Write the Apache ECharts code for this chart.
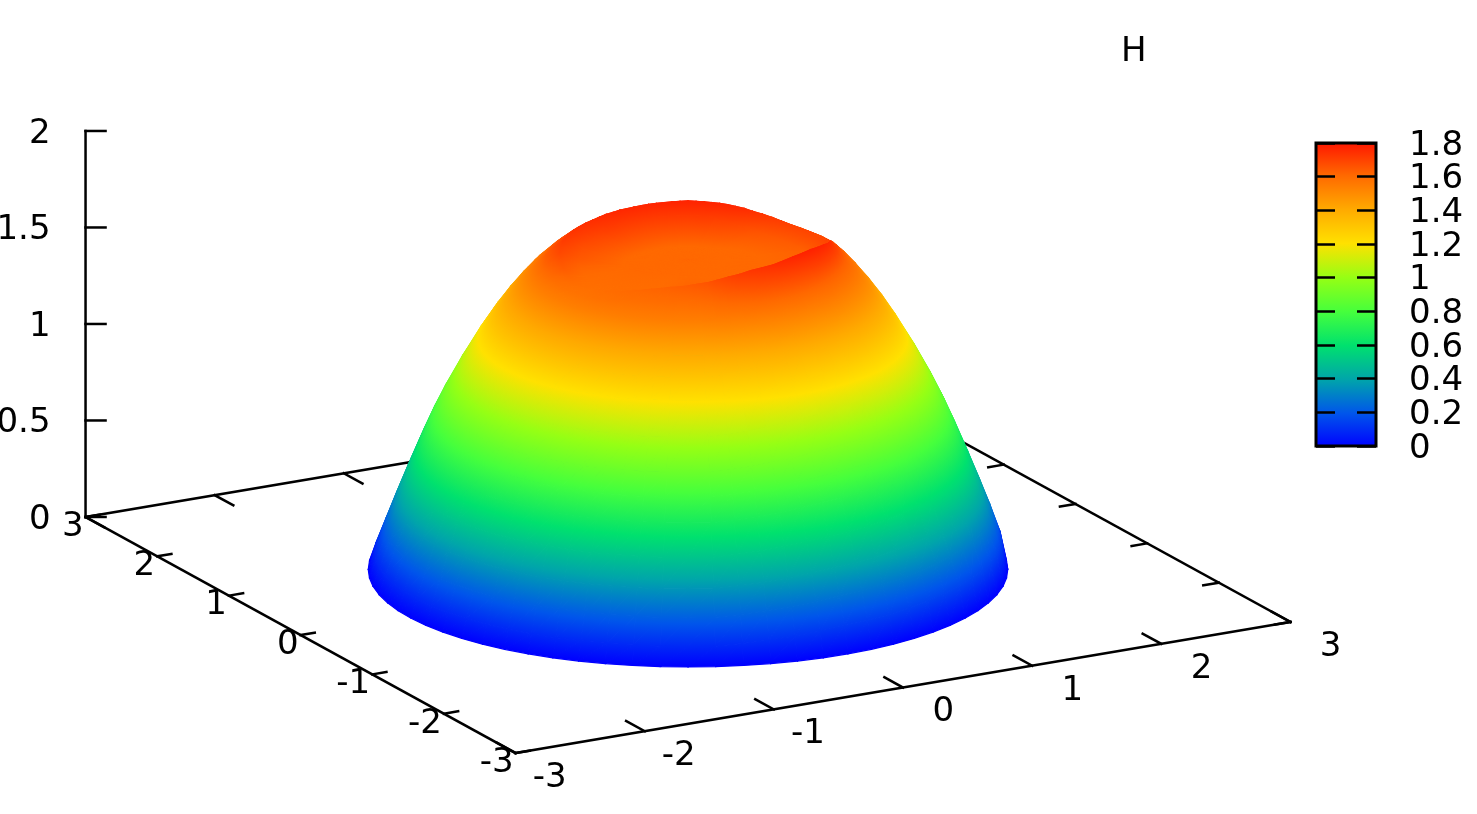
<!DOCTYPE html>
<html>
<head>
<meta charset="utf-8">
<title>H</title>
<style>
  html, body { margin: 0; padding: 0; background: #fff; }
  #chart { width: 1477px; height: 814px; }
</style>
<script src="https://cdn.jsdelivr.net/npm/echarts@6/dist/echarts.min.js"></script>
</head>
<body>
<div id="chart"></div>
<script>
// tick values
const xTicks = [-3, -2, -1, 0, 1, 2, 3];
const yTicks = [-3, -2, -1, 0, 1, 2, 3];
const zTicks = [0, 0.5, 1, 1.5, 2];
const colorTicks = [0, 0.2, 0.4, 0.6, 0.8, 1, 1.2, 1.4, 1.6, 1.8];

const paletteColors = ['#0000ff', '#0055eb', '#00a5aa', '#00e16e', '#46ff3c', '#96ff14', '#ffe100', '#ffaa00', '#ff6900', '#ff1400'];

// surface heights. Rays go counter-clockwise on screen every 5 degrees,
// 0 = screen right, 90 = away from the viewer, 270 = towards the viewer
const rayStep = 5;
const centreHeight = 1.6;
const floorHeight = 1.6;
const shoulderRise = 0.01;
const rimRadius = [
  0.97, 0.945, 0.92, 0.89, 0.86, 0.83, 0.80, 0.77, 0.74, 0.71, 0.68, 0.66,
  0.64, 0.63, 0.625, 0.62, 0.62, 0.62, 0.62, 0.62, 0.62, 0.62, 0.625, 0.63,
  0.63, 0.635, 0.64, 0.65, 0.66, 0.675, 0.69, 0.71, 0.735, 0.76, 0.785, 0.81,
  0.84, 0.86, 0.88, 0.89, 0.90, 0.90, 0.90, 0.89, 0.88, 0.86, 0.84, 0.81,
  0.78, 0.75, 0.72, 0.70, 0.69, 0.69, 0.69, 0.70, 0.72, 0.76, 0.80, 0.83,
  0.85, 0.875, 0.90, 0.915, 0.93, 0.945, 0.96, 0.97, 0.98, 0.985, 0.98, 0.975
];
const rimHeight = [
  1.697, 1.69, 1.685, 1.684, 1.686, 1.69, 1.694, 1.703, 1.714, 1.725, 1.735, 1.745,
  1.752, 1.757, 1.76, 1.762, 1.763, 1.764, 1.765, 1.764, 1.763, 1.762, 1.76, 1.759,
  1.758, 1.757, 1.756, 1.755, 1.752, 1.75, 1.746, 1.741, 1.736, 1.731, 1.727, 1.72,
  1.71, 1.695, 1.68, 1.655, 1.635, 1.61, 1.595, 1.585, 1.58, 1.585, 1.59, 1.595,
  1.60, 1.605, 1.61, 1.615, 1.62, 1.625, 1.63, 1.64, 1.65, 1.67, 1.69, 1.705,
  1.72, 1.73, 1.74, 1.75, 1.76, 1.765, 1.77, 1.765, 1.76, 1.75, 1.74, 1.72
];
const innerHeight = [
  1.62, 1.62, 1.62, 1.625, 1.63, 1.635, 1.64, 1.645, 1.65, 1.66, 1.67, 1.68,
  1.69, 1.695, 1.70, 1.705, 1.71, 1.71, 1.71, 1.71, 1.71, 1.71, 1.71, 1.71,
  1.71, 1.71, 1.71, 1.71, 1.71, 1.71, 1.71, 1.705, 1.70, 1.69, 1.68, 1.67,
  1.66, 1.65, 1.64, 1.62, 1.605, 1.595, 1.59, 1.59, 1.59, 1.59, 1.59, 1.59,
  1.59, 1.59, 1.59, 1.595, 1.60, 1.605, 1.61, 1.61, 1.61, 1.61, 1.61, 1.61,
  1.61, 1.61, 1.61, 1.61, 1.61, 1.61, 1.61, 1.61, 1.61, 1.61, 1.61, 1.615
];
const flankRadii = [1.07, 1.15, 1.24, 1.33, 1.42, 1.55, 1.665, 1.74, 1.81, 1.9, 1.98, 2.05, 2.12, 2.165];
const flankHeights = [1.54, 1.475, 1.395, 1.305, 1.205, 1.045, 0.89, 0.778, 0.6625, 0.505, 0.36, 0.228, 0.095, 0];
// the right hand flank stands a bit higher than the left one
const flankLift = [
  0.075, 0.07, 0.065, 0.055, 0.05, 0.04, 0.03, 0.025, 0.015, 0.01, 0, 0,
  0, 0, 0, 0, 0, 0, 0, 0, 0, 0, 0, 0,
  0, 0, 0, 0, 0, 0, 0, 0, 0, 0, 0, 0,
  0, 0, 0, 0, 0, 0, 0, 0, 0, 0, 0, 0,
  0, 0, 0, 0, 0, 0, 0, 0, 0.01, 0.02, 0.03, 0.04,
  0.05, 0.055, 0.06, 0.065, 0.07, 0.075, 0.08, 0.08, 0.08, 0.08, 0.08, 0.08
];
const liftWeights = [1, 1, 1, 1, 1, 1, 1, 1, 1, 1, 1, 1, 0.85, 0];

// view of the box, in pixels per data unit
const W = 1477, H = 814;
const centreX = 688, centreY = 569.5;
const rotZ = 29.03 * Math.PI / 180;
const pxPerUnit = 147.7, tilt = 45 / pxPerUnit, zScale = 193 / pxPerUnit;
const font = '34px "DejaVu Sans"';

function project(x, y, z) {
  return [
    x * Math.cos(rotZ) - y * Math.sin(rotZ),
    (x * Math.sin(rotZ) + y * Math.cos(rotZ)) * tilt + z * zScale
  ];
}

function heightColor(h) {
  return echarts.color.lerp(Math.max(0, Math.min(1, h / 1.8)), paletteColors);
}

function rayPoints(k) {
  const rim = rimRadius[k];
  const firstFlank = flankHeights[0] + flankLift[k] * liftWeights[0];
  const rows = [
    [0, centreHeight],
    [rim * 0.5, floorHeight],
    [rim * 0.85, innerHeight[k]],
    [rim, rimHeight[k]],
    [(rim + flankRadii[0]) / 2, (rimHeight[k] + firstFlank) / 2 + shoulderRise]
  ];
  flankRadii.forEach((r, i) => rows.push([r, flankHeights[i] + flankLift[k] * liftWeights[i]]));
  // view angle -> data angle
  const view = k * rayStep * Math.PI / 180;
  const a = view - rotZ;
  return rows.map(([r, h]) => {
    const p = project(r * Math.cos(a), r * Math.sin(a), h);
    return { u: p[0], v: p[1], h: h, depth: r * Math.sin(view) };
  });
}

// triangles sorted from the back to the front
const rays = rimRadius.map((_, k) => rayPoints(k));
let triangles = [];
rays.forEach((ray, k) => {
  const next = rays[(k + 1) % rays.length];
  for (let i = 0; i < ray.length - 1; i++) {
    triangles.push([ray[i], next[i], ray[i + 1]]);
    triangles.push([next[i], next[i + 1], ray[i + 1]]);
  }
});
triangles.forEach(t => { t.depth = (t[0].depth + t[1].depth + t[2].depth) / 3; });
triangles.sort((a, b) => b.depth - a.depth);

function triangleFill(pts, hs) {
  const ax = pts[1][0] - pts[0][0], ay = pts[1][1] - pts[0][1];
  const bx = pts[2][0] - pts[0][0], by = pts[2][1] - pts[0][1];
  const det = ax * by - ay * bx;
  const minH = Math.min(hs[0], hs[1], hs[2]), maxH = Math.max(hs[0], hs[1], hs[2]);
  if (Math.abs(det) < 1e-6 || maxH - minH < 1e-4) return heightColor((minH + maxH) / 2);
  // height is linear on a triangle, so a linear gradient along its slope is exact
  const dh1 = hs[1] - hs[0], dh2 = hs[2] - hs[0];
  const gx = (dh1 * by - dh2 * ay) / det, gy = (ax * dh2 - bx * dh1) / det;
  const low = pts[hs.indexOf(minH)];
  const n = (maxH - minH) / (gx * gx + gy * gy);
  const levels = [minH].concat(colorTicks.filter(v => v > minH && v < maxH), maxH);
  return new echarts.graphic.LinearGradient(low[0], low[1], low[0] + gx * n, low[1] + gy * n,
    levels.map(v => ({ offset: (v - minH) / (maxH - minH), color: heightColor(v) })), true);
}

// box edges and ticks, as pairs of data points
const frameSegments = [
  [[-3, -3, 0], [3, -3, 0]], [[-3, 3, 0], [3, 3, 0]],
  [[-3, -3, 0], [-3, 3, 0]], [[3, -3, 0], [3, 3, 0]],
  [[-3, 3, 0], [-3, 3, 2]]
];
xTicks.forEach(x => {
  frameSegments.push([[x, -3, 0], [x, -2.74, 0]]);
  frameSegments.push([[x, 3, 0], [x, 2.74, 0]]);
});
yTicks.forEach(y => {
  frameSegments.push([[-3, y, 0], [-2.89, y, 0]]);
  frameSegments.push([[3, y, 0], [2.88, y, 0]]);
});
zTicks.forEach(z => {
  frameSegments.push([[-3, 3, z], [-3, 3, z], 20]);
});

const tickLabels = [];
xTicks.forEach(x => tickLabels.push({ text: String(x), at: [x, -3, 0], dx: 51, dy: 25, align: 'right' }));
yTicks.forEach(y => tickLabels.push({ text: String(y), at: [-3, y, 0], dx: -2, dy: 10, align: 'right' }));
zTicks.forEach(z => tickLabels.push({ text: String(z), at: [-3, 3, z], dx: -35, dy: 3, align: 'right' }));

const colorAxisTicks = { show: true, inside: true, length: 19, lineStyle: { color: '#000', width: 2.5 } };

const option = {
  animation: false,
  backgroundColor: '#fff',
  title: {
    text: 'H',
    left: 1121,
    top: 35,
    padding: 0,
    textStyle: { fontFamily: 'DejaVu Sans', fontSize: 34, fontWeight: 'normal', color: '#000' }
  },
  grid: [
    { left: 0, top: 0, width: W, height: H },
    {
      left: 1316, top: 143, width: 60, height: 303, show: true,
      borderColor: '#000', borderWidth: 3,
      backgroundColor: new echarts.graphic.LinearGradient(0, 1, 0, 0,
        paletteColors.map((c, i) => ({ offset: i / (paletteColors.length - 1), color: c })))
    }
  ],
  xAxis: [
    { type: 'value', gridIndex: 0, show: false, min: -centreX / pxPerUnit, max: (W - centreX) / pxPerUnit },
    { type: 'value', gridIndex: 1, show: false, min: 0, max: 1 }
  ],
  yAxis: [
    { type: 'value', gridIndex: 0, show: false, min: (centreY - H) / pxPerUnit, max: centreY / pxPerUnit },
    {
      type: 'value', gridIndex: 1, position: 'left', min: 0, max: 1.8, interval: 0.2,
      axisLine: { show: false }, axisLabel: { show: false }, splitLine: { show: false },
      axisTick: colorAxisTicks
    },
    {
      type: 'value', gridIndex: 1, position: 'right', min: 0, max: 1.8, interval: 0.2,
      axisLine: { show: false }, axisLabel: { show: false }, splitLine: { show: false },
      axisTick: colorAxisTicks
    }
  ],
  series: [
    {
      name: 'frame',
      type: 'custom',
      coordinateSystem: 'cartesian2d',
      xAxisIndex: 0,
      yAxisIndex: 0,
      z: 1,
      silent: true,
      clip: false,
      data: frameSegments.map((s, i) => [i]),
      encode: { x: 0 },
      renderItem: (params, api) => {
        const s = frameSegments[params.dataIndex];
        const a = api.coord(project(s[0][0], s[0][1], s[0][2]));
        const b = api.coord(project(s[1][0], s[1][1], s[1][2]));
        return {
          type: 'line',
          shape: { x1: a[0], y1: a[1], x2: b[0] + (s[2] || 0), y2: b[1] },
          style: { stroke: '#000', lineWidth: 2.5, lineCap: 'square' }
        };
      }
    },
    {
      name: 'H',
      type: 'custom',
      coordinateSystem: 'cartesian2d',
      xAxisIndex: 0,
      yAxisIndex: 0,
      z: 2,
      silent: true,
      clip: false,
      progressive: 0,
      data: triangles.map(t => [t[0].u, t[0].v, t[0].h]),
      renderItem: (params, api) => {
        const t = triangles[params.dataIndex];
        const pts = t.map(p => api.coord([p.u, p.v]));
        const fill = triangleFill(pts, t.map(p => p.h));
        return {
          type: 'polygon',
          shape: { points: pts },
          style: { fill: fill, stroke: fill, lineWidth: 1.2, lineJoin: 'round' }
        };
      }
    },
    {
      name: 'labels',
      type: 'custom',
      coordinateSystem: 'cartesian2d',
      xAxisIndex: 0,
      yAxisIndex: 0,
      z: 3,
      silent: true,
      clip: false,
      data: tickLabels.map((l, i) => [i]),
      encode: { x: 0 },
      renderItem: (params, api) => {
        const l = tickLabels[params.dataIndex];
        const p = api.coord(project(l.at[0], l.at[1], l.at[2]));
        return {
          type: 'text',
          x: p[0] + l.dx,
          y: p[1] + l.dy,
          style: { text: l.text, font: font, fill: '#000', align: l.align, verticalAlign: 'middle' }
        };
      }
    },
    {
      name: 'color labels',
      type: 'custom',
      coordinateSystem: 'cartesian2d',
      xAxisIndex: 1,
      yAxisIndex: 2,
      z: 3,
      silent: true,
      clip: false,
      data: colorTicks.map(v => [1, v]),
      encode: { x: 0, y: 1 },
      renderItem: (params, api) => {
        const p = api.coord([1, api.value(1)]);
        return {
          type: 'text',
          x: p[0] + 33,
          y: p[1] + 3,
          style: { text: String(api.value(1)), font: font, fill: '#000', align: 'left', verticalAlign: 'middle' }
        };
      }
    }
  ]
};

const myChart = echarts.init(document.getElementById('chart'));
myChart.setOption(option);
</script>
</body>
</html>
